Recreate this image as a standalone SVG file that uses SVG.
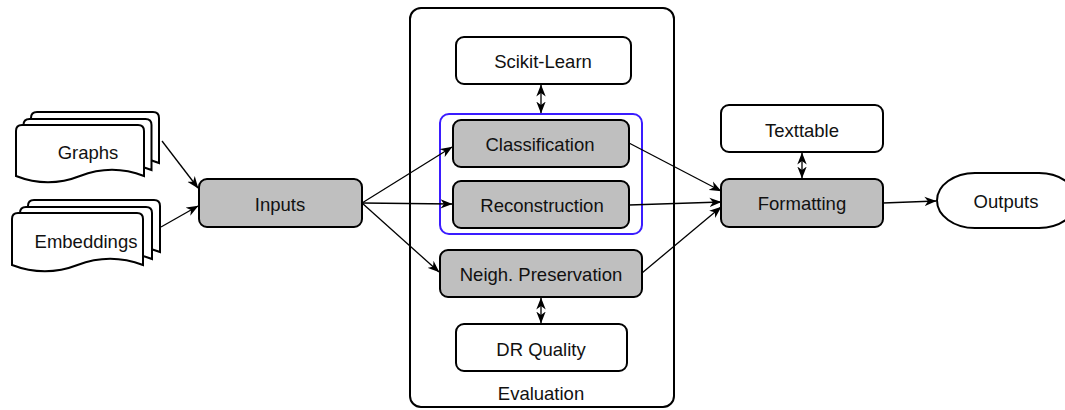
<svg xmlns="http://www.w3.org/2000/svg" width="1065" height="410" viewBox="0 0 1065 410">
<style>
.n{fill:#fff;stroke:#000;stroke-width:2}
.g{fill:#bfbfbf;stroke:#000;stroke-width:2}
.t{font-family:"Liberation Sans",Arial,sans-serif;font-size:18.5px;fill:#111;text-anchor:middle;dominant-baseline:central}
.c{fill:none;stroke:#000;stroke-width:1.3}
</style>
<defs>
<marker id="a" viewBox="0 0 12 10" refX="11.5" refY="5" markerWidth="12" markerHeight="10" markerUnits="userSpaceOnUse" orient="auto-start-reverse">
<path d="M0,0.3 L12,5 L0,9.7 L3.5,5 Z" fill="#000"/>
</marker>
</defs>
<rect width="1065" height="410" fill="#fff"/>
<g id="evaluation">
<rect class="n" x="410" y="8" width="264" height="399" rx="11"/>
<text class="t" x="541" y="393">Evaluation</text>
</g>
<g id="group-blue">
<rect x="440" y="114" width="202" height="120" rx="9" fill="none" stroke="#3a1cff" stroke-width="2"/>
</g>
<g id="graphs">
<path class="n" d="M31,118 Q31,112 37,112 L153,112 Q159,112 159,118 L159,163 Q127,150.4 95,163 Q63,175.6 31,163 Z"/>
<path class="n" d="M23.5,125 Q23.5,119 29.5,119 L145.5,119 Q151.5,119 151.5,125 L151.5,170 Q119.5,157.4 87.5,170 Q55.5,182.6 23.5,170 Z"/>
<path class="n" d="M16,131 Q16,125 22,125 L138,125 Q144,125 144,131 L144,176 Q112,163.4 80,176 Q48,188.6 16,176 Z"/>
<text class="t" x="88" y="152">Graphs</text>
</g>
<g id="embeddings">
<path class="n" d="M28,206 Q28,200 34,200 L154,200 Q160,200 160,206 L160,252 Q127,239.4 94,252 Q61,264.6 28,252 Z"/>
<path class="n" d="M20,213 Q20,207 26,207 L146,207 Q152,207 152,213 L152,259 Q119,246.4 86,259 Q53,271.6 20,259 Z"/>
<path class="n" d="M12,219 Q12,213 18,213 L137,213 Q143,213 143,219 L143,265 Q110,252.4 77.5,265 Q45,277.6 12,265 Z"/>
<text class="t" x="86" y="241">Embeddings</text>
</g>
<g id="inputs">
<rect class="g" x="199" y="179" width="163" height="48" rx="8"/>
<text class="t" x="280" y="204">Inputs</text>
</g>
<g id="scikit">
<rect class="n" x="456" y="37" width="175" height="47" rx="8"/>
<text class="t" x="543" y="61">Scikit-Learn</text>
</g>
<g id="classification">
<rect class="g" x="453" y="120" width="176" height="47" rx="8"/>
<text class="t" x="540" y="144">Classification</text>
</g>
<g id="reconstruction">
<rect class="g" x="453" y="181" width="176" height="47" rx="8"/>
<text class="t" x="542" y="205">Reconstruction</text>
</g>
<g id="neigh">
<rect class="g" x="440" y="250" width="202" height="47" rx="8"/>
<text class="t" x="541" y="274">Neigh. Preservation</text>
</g>
<g id="drquality">
<rect class="n" x="456" y="324" width="171" height="47" rx="8"/>
<text class="t" x="541" y="349">DR Quality</text>
</g>
<g id="texttable">
<rect class="n" x="721" y="105" width="162" height="47" rx="8"/>
<text class="t" x="802" y="130">Texttable</text>
</g>
<g id="formatting">
<rect class="g" x="721" y="179" width="162" height="48" rx="8"/>
<text class="t" x="802" y="203">Formatting</text>
</g>
<g id="outputs">
<rect class="n" x="937" y="173" width="140" height="55" rx="38" ry="27.5"/>
<text class="t" x="1006" y="201">Outputs</text>
</g>
<g id="connectors">
<line class="c" x1="162" y1="141" x2="198" y2="188" marker-end="url(#a)"/>
<line class="c" x1="161" y1="227" x2="198" y2="206" marker-end="url(#a)"/>
<line class="c" x1="362" y1="203" x2="452" y2="147" marker-end="url(#a)"/>
<line class="c" x1="362" y1="203" x2="452" y2="204" marker-end="url(#a)"/>
<line class="c" x1="362" y1="203" x2="439" y2="272" marker-end="url(#a)"/>
<line class="c" x1="629" y1="143" x2="721" y2="191" marker-end="url(#a)"/>
<line class="c" x1="629" y1="205" x2="721" y2="202" marker-end="url(#a)"/>
<line class="c" x1="642" y1="273" x2="721" y2="207" marker-end="url(#a)"/>
<line class="c" x1="883" y1="203" x2="936" y2="201" marker-end="url(#a)"/>
<line class="c" x1="541" y1="85" x2="541" y2="113" marker-start="url(#a)" marker-end="url(#a)"/>
<line class="c" x1="541" y1="298" x2="541" y2="323" marker-start="url(#a)" marker-end="url(#a)"/>
<line class="c" x1="802" y1="153" x2="802" y2="178" marker-start="url(#a)" marker-end="url(#a)"/>
</g>
</svg>
